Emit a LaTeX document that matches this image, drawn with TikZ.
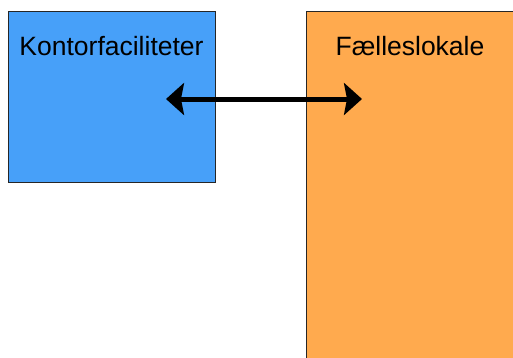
\documentclass[tikz,border=0pt]{standalone}
\usepackage{fontspec}
\setmainfont{Liberation Sans}
\usetikzlibrary{arrows.meta}
\definecolor{boxblue}{RGB}{71,160,249}
\definecolor{boxorange}{RGB}{255,170,78}
\tikzset{
  room/.style={draw=black!85, line width=0.9pt},
  roomlabel/.style={anchor=base, font=\fontsize{26.5}{31}\selectfont, inner sep=0pt},
  link/.style={line width=5pt, {Stealth[length=18pt,width=32pt,inset=3pt]}-{Stealth[length=18pt,width=32pt,inset=3pt]}}
}
\begin{document}
\begin{tikzpicture}[x=1pt,y=-1pt]
\useasboundingbox (0,0) rectangle (513,357);
\clip (0,0) rectangle (513,357);
\fill[white] (0,0) rectangle (513,357);
\path[room, fill=boxblue] (8.5,11) rectangle (215,182);
\path[room, fill=boxorange] (306,11) rectangle (515,360);
\node[roomlabel] (kontor) at (111.5,55.5) {Kontorfaciliteter};
\node[roomlabel] (faelles) at (410,55.5) {Fælleslokale};
\coordinate (a) at (166,99);
\coordinate (b) at (362,99);
\draw[link] (a) -- (b);
\end{tikzpicture}
\end{document}
